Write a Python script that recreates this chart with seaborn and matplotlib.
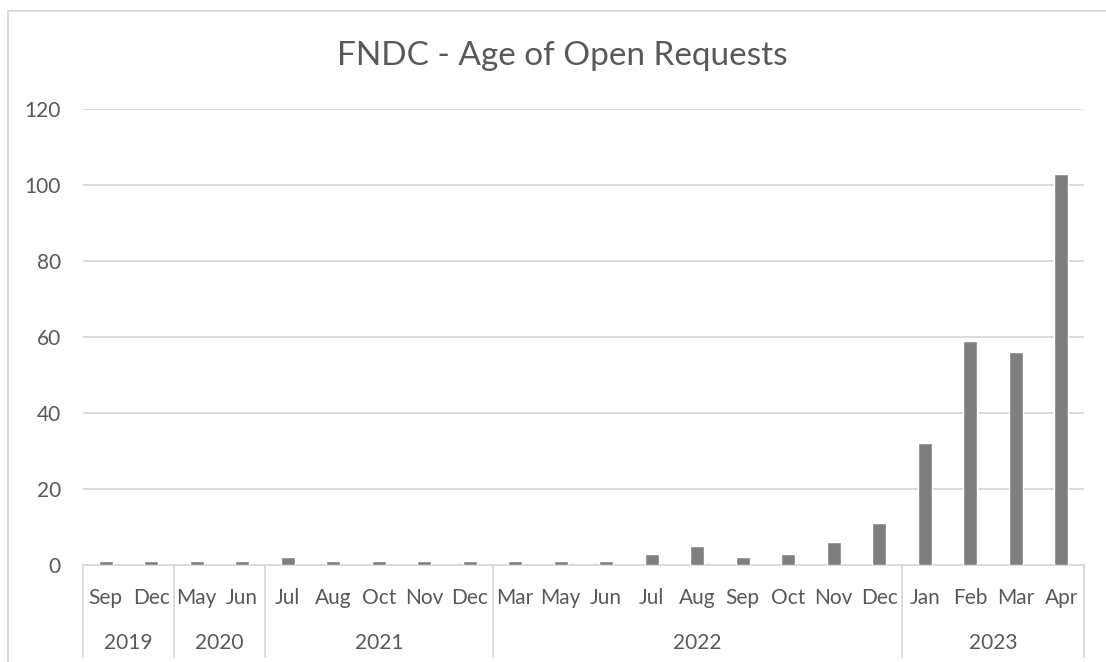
import matplotlib
matplotlib.use("Agg")
import matplotlib.pyplot as plt
import matplotlib.transforms as mtransforms
from matplotlib.patches import Rectangle
import seaborn as sns
import pandas as pd

months = ["Sep", "Dec", "May", "Jun", "Jul", "Aug", "Oct", "Nov", "Dec", "Mar", "May", "Jun",
          "Jul", "Aug", "Sep", "Oct", "Nov", "Dec", "Jan", "Feb", "Mar", "Apr"]
years = ["2019", "2019", "2020", "2020", "2021", "2021", "2021", "2021", "2021",
         "2022", "2022", "2022", "2022", "2022", "2022", "2022", "2022", "2022",
         "2023", "2023", "2023", "2023"]
values = [1, 1, 1, 1, 2, 1, 1, 1, 1, 1, 1, 1, 3, 5, 2, 3, 6, 11, 32, 59, 56, 103]
title = "FNDC - Age of Open Requests"

sns.set_style("white")
plt.rcParams['font.family'] = ['Lato', 'DejaVu Sans']

text_c = "#595959"
grid_c = "#d9d9d9"
fs = 15

df = pd.DataFrame({"key": [f"{y}-{i}" for i, y in enumerate(years)],
                   "month": months, "year": years, "value": values})

W, H = 1106, 662
AX_L, AX_R, AX_T, AX_B = 83, 1084, 109, 565
fig = plt.figure(figsize=(W / 100, H / 100), dpi=100)
ax = fig.add_axes([AX_L / W, 1 - AX_B / H, (AX_R - AX_L) / W, (AX_B - AX_T) / H])

sns.barplot(data=df, x="key", y="value", color="#7f7f7f", saturation=1,
            width=0.31, ax=ax, zorder=3)

ax.set_ylim(0, 120)
ax.set_yticks(range(0, 121, 20))
ax.set_xlim(-0.5, len(values) - 0.5)
ax.set_xticks(range(len(values)))
ax.set_xticklabels([])
ax.set_xlabel("")
ax.set_ylabel("")
ax.yaxis.grid(True, color=grid_c, linewidth=1.3, zorder=0)
for s in ["top", "right", "left"]:
    ax.spines[s].set_visible(False)
ax.spines["bottom"].set_color(grid_c)
ax.spines["bottom"].set_linewidth(1.3)
ax.tick_params(axis="x", length=0)
ax.tick_params(axis="y", length=0, pad=16, labelsize=fs, labelcolor=text_c)

trans = mtransforms.blended_transform_factory(ax.transData, ax.transAxes)
ah = AX_B - AX_T

# month labels (first level of category axis)
ymonth = -(604 - AX_B) / ah
for i, m in enumerate(months):
    ax.text(i, ymonth, m, transform=trans, ha="center", va="baseline",
            fontsize=fs, color=text_c)

# group dividers and year labels
groups = []
start = 0
for i in range(1, len(years) + 1):
    if i == len(years) or years[i] != years[start]:
        groups.append((years[start], start, i - 1))
        start = i
bounds = sorted({g[1] - 0.5 for g in groups} | {g[2] + 0.5 for g in groups})
ybot = -(657 - AX_B) / ah
for b in bounds:
    ax.plot([b, b], [0, ybot], transform=trans, color=grid_c, linewidth=1.3,
            clip_on=False, zorder=1)
yyear = -(649 - AX_B) / ah
for name, a, b in groups:
    ax.text((a + b) / 2, yyear, name, transform=trans, ha="center", va="baseline",
            fontsize=fs, color=text_c)

fig.text(562 / W, 1 - 65 / H, title, ha="center", va="baseline",
         fontsize=24, color=text_c)

# outer chart frame (cropped at right and bottom)
fig.patches.append(Rectangle((7.5 / W, -0.1), 1.2, 1.1 - 11 / H,
                             transform=fig.transFigure, fill=False,
                             edgecolor=grid_c, linewidth=1.3))

fig.savefig("out.png", dpi=100)
